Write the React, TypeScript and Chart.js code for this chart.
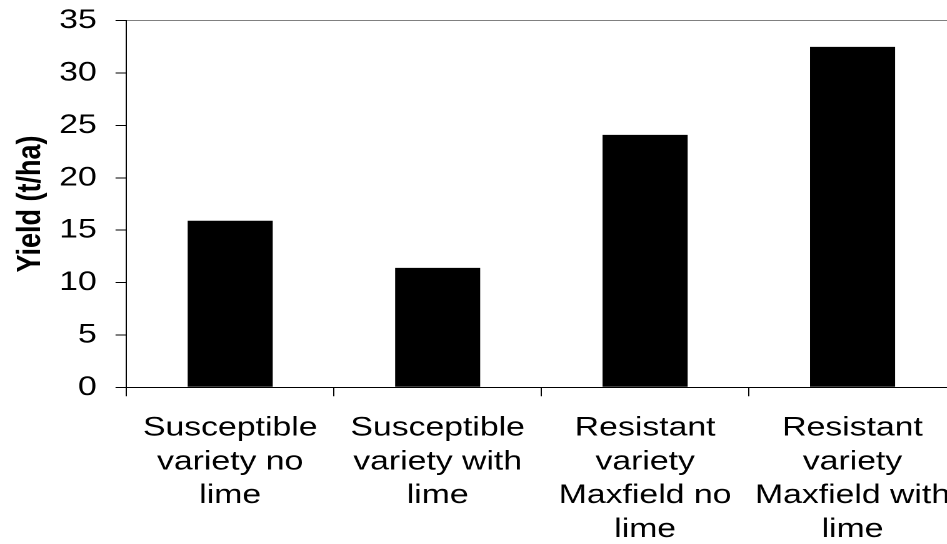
import React, { useEffect, useRef } from "react";
import { Chart, registerables } from "chart.js";

Chart.register(...registerables);

const categories: string[][] = [
  ["Susceptible", "variety no", "lime"],
  ["Susceptible", "variety with", "lime"],
  ["Resistant", "variety", "Maxfield no", "lime"],
  ["Resistant", "variety", "Maxfield with", "lime"],
];
const yieldValues: number[] = [15.9, 11.4, 24.1, 32.5];
const yMin = 0;
const yMax = 35;
const yStep = 5;
const yAxisTitle = "Yield (t/ha)";

// The reference image is horizontally stretched; draw in a narrower logical space and stretch via CSS.
const STRETCH = 1.25;
const PHYS_W = 960;
const H = 544;
const LOG_W = PHYS_W / STRETCH;

const FAMILY = "'Liberation Sans', Arial, sans-serif";

export default function App() {
  const ref = useRef<HTMLCanvasElement>(null);

  useEffect(() => {
    const canvas = ref.current;
    if (!canvas) return;
    const font = { family: FAMILY, size: 27, lineHeight: 1.25 };
    const chart = new Chart(canvas, {
      type: "bar",
      data: {
        labels: categories,
        datasets: [
          {
            data: yieldValues,
            backgroundColor: "#000",
            borderWidth: 0,
            barPercentage: 0.41,
            categoryPercentage: 1,
          },
        ],
      },
      options: {
        responsive: false,
        animation: false,
        devicePixelRatio: 2,
        layout: { padding: { left: 0, right: 3, top: 20.7, bottom: 0 } },
        plugins: {
          legend: { display: false },
          tooltip: { enabled: false },
        },
        scales: {
          x: {
            grid: {
              color: "transparent",
              tickColor: "#000",
              tickLength: 9,
              offset: true,
              drawOnChartArea: false,
            },
            border: { color: "#000", width: 1 },
            ticks: {
              font,
              color: "#000",
              padding: 15,
              maxRotation: 0,
              autoSkip: false,
            },
            afterFit: (s: any) => {
              s.height = 156.7;
              s.paddingLeft = 0;
              s.paddingRight = 0;
            },
          },
          y: {
            min: yMin,
            max: yMax,
            ticks: { stepSize: yStep, font, color: "#000", padding: 15 },
            grid: {
              color: (c: any) =>
                c.tick && c.tick.value === yMax ? "#808080" : "transparent",
              tickColor: "#000",
              tickLength: 8.8,
            },
            border: { color: "#000", width: 1 },
            title: {
              display: true,
              text: yAxisTitle,
              color: "#000",
              font: { family: FAMILY, size: 27, weight: "bold" },
              padding: { top: 8.5, bottom: 0 },
            },
            afterFit: (s: any) => {
              s.width = 101.2;
              s.paddingTop = 0;
              s.paddingBottom = 0;
            },
          },
        },
      },
    });
    return () => chart.destroy();
  }, []);

  return (
    <div
      style={{
        position: "fixed",
        left: 0,
        top: 0,
        width: 947,
        height: 544,
        overflow: "hidden",
        background: "#fff",
      }}
    >
      <canvas
        ref={ref}
        width={LOG_W}
        height={H}
        style={{ width: PHYS_W + "px", height: H + "px", display: "block" }}
      />
    </div>
  );
}
